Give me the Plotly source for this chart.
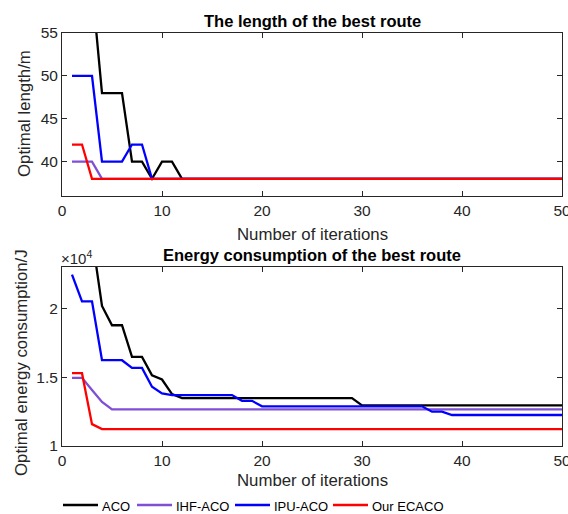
import plotly.graph_objects as go

# Iteration index
iterations = list(range(1, 51))

# Length of the best route (m) per iteration
aco_len = [64, 62, 60.5, 48, 48, 48, 40, 40, 38, 40, 40] + [38] * 39
ihf_len = [40, 40, 40] + [38] * 47
ipu_len = [50, 50, 50, 40, 40, 40, 42, 42] + [38] * 42
ecaco_len = [42, 42] + [38] * 48

# Energy consumption of the best route (J) per iteration
aco_energy = ([29000, 27000, 25200, 20170, 18770, 18770, 16470, 16470, 15140, 14830, 13770]
              + [13480] * 18 + [12950] * 21)
ihf_energy = [14950, 14950, 14060, 13200] + [12660] * 46
ipu_energy = ([22440, 20500, 20500, 16230, 16230, 16230, 15670, 15670, 14300, 13820]
              + [13700] * 7 + [13280] * 2 + [12880] * 17 + [12490] * 2 + [12250] * 12)
ecaco_energy = [15290, 15290, 11590] + [11230] * 47

series_names = ["ACO", "IHF-ACO", "IPU-ACO", "Our ECACO"]
series_colors = ["#000000", "#7f4fd6", "#0000ff", "#ff0000"]

x_ticks = [0, 10, 20, 30, 40, 50]
len_ticks = [40, 45, 50, 55]
energy_ticks = [10000, 15000, 20000]
energy_tick_text = ["1", "1.5", "2"]

FONT = "Liberation Sans, Arial, sans-serif"
AXIS_COLOR = "#262626"
LINE_W = 2.3

fig = go.Figure()

length_series = [aco_len, ihf_len, ipu_len, ecaco_len]
energy_series = [aco_energy, ihf_energy, ipu_energy, ecaco_energy]

for name, color, ys in zip(series_names, series_colors, length_series):
    fig.add_trace(go.Scatter(x=iterations, y=ys, mode="lines", name=name,
                             line=dict(color=color, width=LINE_W),
                             xaxis="x", yaxis="y", showlegend=False))
for name, color, ys in zip(series_names, series_colors, energy_series):
    fig.add_trace(go.Scatter(x=iterations, y=ys, mode="lines", name=name,
                             line=dict(color=color, width=LINE_W),
                             xaxis="x2", yaxis="y2", showlegend=False))

W, H = 568, 514
x_dom = [62 / W, 562 / W]
top_dom = [1 - 196 / H, 1 - 33 / H]
bot_dom = [1 - 446 / H, 1 - 267 / H]

axis_common = dict(showline=True, linecolor=AXIS_COLOR, linewidth=1, mirror="ticks",
                   ticks="inside", ticklen=5, tickcolor=AXIS_COLOR, showgrid=False,
                   zeroline=False, ticklabeloverflow="allow", automargin=False,
                   tickfont=dict(family=FONT, size=15.5, color=AXIS_COLOR))

fig.update_layout(
    width=W, height=H,
    margin=dict(l=0, r=0, t=0, b=0, pad=0, autoexpand=False),
    paper_bgcolor="white", plot_bgcolor="white",
    font=dict(family=FONT, color=AXIS_COLOR),
    showlegend=False,
    xaxis=dict(domain=x_dom, range=[0, 50], tickvals=x_ticks, anchor="y", **axis_common),
    yaxis=dict(domain=top_dom, range=[36, 55], tickvals=len_ticks, anchor="x", **axis_common),
    xaxis2=dict(domain=x_dom, range=[0, 50], tickvals=x_ticks, anchor="y2", **axis_common),
    yaxis2=dict(domain=bot_dom, range=[10000, 23000], tickvals=energy_ticks,
                ticktext=energy_tick_text, anchor="x2", **axis_common),
)


def px(xp, yp):
    return xp / W, 1 - yp / H


annotations = []
shapes = []
# Subplot titles
for text, yp in [("The length of the best route", 21), ("Energy consumption of the best route", 255)]:
    ax_, ay_ = px(312, yp)
    annotations.append(dict(text=f"<b>{text}</b>", x=ax_, y=ay_, xref="paper", yref="paper",
                            showarrow=False, xanchor="center", yanchor="middle",
                            font=dict(family=FONT, size=16.5, color="#000000")))
# X-axis titles
for yp in [235, 480]:
    ax_, ay_ = px(312, yp)
    annotations.append(dict(text="Number of iterations", x=ax_, y=ay_, xref="paper", yref="paper",
                            showarrow=False, xanchor="center", yanchor="middle",
                            font=dict(family=FONT, size=16.8, color=AXIS_COLOR)))
# Y-axis titles
for text, xp, yp in [("Optimal length/m", 24, 114), ("Optimal energy consumption/J", 21, 363)]:
    ax_, ay_ = px(xp, yp)
    annotations.append(dict(text=text, x=ax_, y=ay_, xref="paper", yref="paper",
                            showarrow=False, xanchor="center", yanchor="middle", textangle=-90,
                            font=dict(family=FONT, size=16.8, color=AXIS_COLOR)))
# Exponent marker for the energy axis
ax_, ay_ = px(59, 257)
annotations.append(dict(text="×10<sup>4</sup>", x=ax_, y=ay_, xref="paper", yref="paper",
                        showarrow=False, xanchor="left", yanchor="middle",
                        font=dict(family=FONT, size=15, color=AXIS_COLOR)))

# Legend row below the lower panel
legend_x = [63, 137, 235, 333]
legend_y = 505
for name, color, x0 in zip(series_names, series_colors, legend_x):
    lx0, ly = px(x0, legend_y)
    lx1, _ = px(x0 + 35, legend_y)
    shapes.append(dict(type="line", xref="paper", yref="paper", x0=lx0, x1=lx1, y0=ly, y1=ly,
                       line=dict(color=color, width=LINE_W)))
    tx, ty = px(x0 + 37, legend_y + 1)
    annotations.append(dict(text=name, x=tx, y=ty, xref="paper", yref="paper",
                            showarrow=False, xanchor="left", yanchor="middle",
                            font=dict(family=FONT, size=13, color="#000000")))

fig.update_layout(annotations=annotations, shapes=shapes)

fig.write_html("out.html")
